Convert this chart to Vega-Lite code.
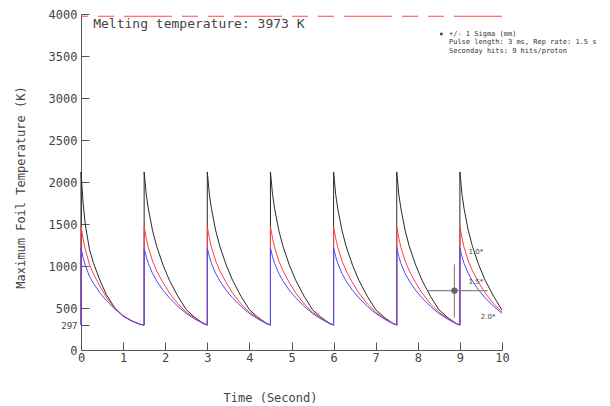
{
  "$schema": "https://vega.github.io/schema/vega-lite/v6.json",
  "width": 421,
  "height": 336,
  "autosize": "none",
  "padding": {"left": 81, "top": 14, "right": 108, "bottom": 56},
  "background": "white",
  "config": {"view": {"stroke": null}, "font": "DejaVu Sans Mono"},
  "resolve": {"axis": {"x": "independent", "y": "independent"}},
  "datasets": {
    "c": [
      {"s":"k","t":0,"v":297},{"s":"k","t":0,"v":2120},{"s":"k","t":0.05,"v":1750},{"s":"k","t":0.1,"v":1500},{"s":"k","t":0.2,"v":1200},{"s":"k","t":0.3,"v":1030},{"s":"k","t":0.45,"v":830},{"s":"k","t":0.6,"v":660},{"s":"k","t":0.8,"v":505},{"s":"k","t":1.0,"v":405},{"s":"k","t":1.2,"v":348},{"s":"k","t":1.4,"v":306},{"s":"k","t":1.5,"v":297},
      {"s":"k","t":1.5,"v":2120},{"s":"k","t":1.55,"v":1850},{"s":"k","t":1.6,"v":1680},{"s":"k","t":1.7,"v":1420},{"s":"k","t":1.8,"v":1230},{"s":"k","t":1.95,"v":1010},{"s":"k","t":2.1,"v":830},{"s":"k","t":2.3,"v":640},{"s":"k","t":2.5,"v":480},{"s":"k","t":2.7,"v":390},{"s":"k","t":2.9,"v":320},{"s":"k","t":3.0,"v":297},
      {"s":"k","t":3.0,"v":2120},{"s":"k","t":3.05,"v":1850},{"s":"k","t":3.1,"v":1680},{"s":"k","t":3.2,"v":1420},{"s":"k","t":3.3,"v":1230},{"s":"k","t":3.45,"v":1010},{"s":"k","t":3.6,"v":830},{"s":"k","t":3.8,"v":640},{"s":"k","t":4.0,"v":480},{"s":"k","t":4.2,"v":390},{"s":"k","t":4.4,"v":320},{"s":"k","t":4.5,"v":297},
      {"s":"k","t":4.5,"v":2120},{"s":"k","t":4.55,"v":1850},{"s":"k","t":4.6,"v":1680},{"s":"k","t":4.7,"v":1420},{"s":"k","t":4.8,"v":1230},{"s":"k","t":4.95,"v":1010},{"s":"k","t":5.1,"v":830},{"s":"k","t":5.3,"v":640},{"s":"k","t":5.5,"v":480},{"s":"k","t":5.7,"v":390},{"s":"k","t":5.9,"v":320},{"s":"k","t":6.0,"v":297},
      {"s":"k","t":6.0,"v":2120},{"s":"k","t":6.05,"v":1850},{"s":"k","t":6.1,"v":1680},{"s":"k","t":6.2,"v":1420},{"s":"k","t":6.3,"v":1230},{"s":"k","t":6.45,"v":1010},{"s":"k","t":6.6,"v":830},{"s":"k","t":6.8,"v":640},{"s":"k","t":7.0,"v":480},{"s":"k","t":7.2,"v":390},{"s":"k","t":7.4,"v":320},{"s":"k","t":7.5,"v":297},
      {"s":"k","t":7.5,"v":2120},{"s":"k","t":7.55,"v":1850},{"s":"k","t":7.6,"v":1680},{"s":"k","t":7.7,"v":1420},{"s":"k","t":7.8,"v":1230},{"s":"k","t":7.95,"v":1010},{"s":"k","t":8.1,"v":830},{"s":"k","t":8.3,"v":640},{"s":"k","t":8.5,"v":480},{"s":"k","t":8.7,"v":390},{"s":"k","t":8.9,"v":320},{"s":"k","t":9.0,"v":297},
      {"s":"k","t":9.0,"v":2120},{"s":"k","t":9.05,"v":1850},{"s":"k","t":9.1,"v":1680},{"s":"k","t":9.2,"v":1420},{"s":"k","t":9.3,"v":1230},{"s":"k","t":9.45,"v":1010},{"s":"k","t":9.6,"v":830},{"s":"k","t":9.8,"v":640},{"s":"k","t":10.0,"v":475},

      {"s":"r","t":0,"v":297},{"s":"r","t":0,"v":1470},{"s":"r","t":0.05,"v":1320},{"s":"r","t":0.1,"v":1200},{"s":"r","t":0.2,"v":1020},{"s":"r","t":0.3,"v":900},{"s":"r","t":0.45,"v":760},{"s":"r","t":0.6,"v":630},{"s":"r","t":0.8,"v":500},{"s":"r","t":1.0,"v":408},{"s":"r","t":1.2,"v":350},{"s":"r","t":1.4,"v":307},{"s":"r","t":1.5,"v":297},
      {"s":"r","t":1.5,"v":1470},{"s":"r","t":1.55,"v":1330},{"s":"r","t":1.6,"v":1220},{"s":"r","t":1.7,"v":1060},{"s":"r","t":1.8,"v":940},{"s":"r","t":1.95,"v":800},{"s":"r","t":2.1,"v":680},{"s":"r","t":2.3,"v":550},{"s":"r","t":2.5,"v":450},{"s":"r","t":2.7,"v":380},{"s":"r","t":2.9,"v":320},{"s":"r","t":3.0,"v":297},
      {"s":"r","t":3.0,"v":1470},{"s":"r","t":3.05,"v":1330},{"s":"r","t":3.1,"v":1220},{"s":"r","t":3.2,"v":1060},{"s":"r","t":3.3,"v":940},{"s":"r","t":3.45,"v":800},{"s":"r","t":3.6,"v":680},{"s":"r","t":3.8,"v":550},{"s":"r","t":4.0,"v":450},{"s":"r","t":4.2,"v":380},{"s":"r","t":4.4,"v":320},{"s":"r","t":4.5,"v":297},
      {"s":"r","t":4.5,"v":1470},{"s":"r","t":4.55,"v":1330},{"s":"r","t":4.6,"v":1220},{"s":"r","t":4.7,"v":1060},{"s":"r","t":4.8,"v":940},{"s":"r","t":4.95,"v":800},{"s":"r","t":5.1,"v":680},{"s":"r","t":5.3,"v":550},{"s":"r","t":5.5,"v":450},{"s":"r","t":5.7,"v":380},{"s":"r","t":5.9,"v":320},{"s":"r","t":6.0,"v":297},
      {"s":"r","t":6.0,"v":1470},{"s":"r","t":6.05,"v":1330},{"s":"r","t":6.1,"v":1220},{"s":"r","t":6.2,"v":1060},{"s":"r","t":6.3,"v":940},{"s":"r","t":6.45,"v":800},{"s":"r","t":6.6,"v":680},{"s":"r","t":6.8,"v":550},{"s":"r","t":7.0,"v":450},{"s":"r","t":7.2,"v":380},{"s":"r","t":7.4,"v":320},{"s":"r","t":7.5,"v":297},
      {"s":"r","t":7.5,"v":1470},{"s":"r","t":7.55,"v":1330},{"s":"r","t":7.6,"v":1220},{"s":"r","t":7.7,"v":1060},{"s":"r","t":7.8,"v":940},{"s":"r","t":7.95,"v":800},{"s":"r","t":8.1,"v":680},{"s":"r","t":8.3,"v":550},{"s":"r","t":8.5,"v":450},{"s":"r","t":8.7,"v":380},{"s":"r","t":8.9,"v":320},{"s":"r","t":9.0,"v":297},
      {"s":"r","t":9.0,"v":1470},{"s":"r","t":9.05,"v":1330},{"s":"r","t":9.1,"v":1220},{"s":"r","t":9.2,"v":1060},{"s":"r","t":9.3,"v":940},{"s":"r","t":9.45,"v":800},{"s":"r","t":9.6,"v":680},{"s":"r","t":9.8,"v":550},{"s":"r","t":10.0,"v":452},

      {"s":"b","t":0,"v":297},{"s":"b","t":0,"v":1215},{"s":"b","t":0.05,"v":1100},{"s":"b","t":0.1,"v":1010},{"s":"b","t":0.2,"v":880},{"s":"b","t":0.3,"v":790},{"s":"b","t":0.45,"v":680},{"s":"b","t":0.6,"v":590},{"s":"b","t":0.8,"v":490},{"s":"b","t":1.0,"v":403},{"s":"b","t":1.2,"v":346},{"s":"b","t":1.4,"v":305},{"s":"b","t":1.5,"v":297},
      {"s":"b","t":1.5,"v":1215},{"s":"b","t":1.55,"v":1110},{"s":"b","t":1.6,"v":1030},{"s":"b","t":1.7,"v":910},{"s":"b","t":1.8,"v":820},{"s":"b","t":1.95,"v":710},{"s":"b","t":2.1,"v":620},{"s":"b","t":2.3,"v":520},{"s":"b","t":2.5,"v":435},{"s":"b","t":2.7,"v":370},{"s":"b","t":2.9,"v":315},{"s":"b","t":3.0,"v":297},
      {"s":"b","t":3.0,"v":1215},{"s":"b","t":3.05,"v":1110},{"s":"b","t":3.1,"v":1030},{"s":"b","t":3.2,"v":910},{"s":"b","t":3.3,"v":820},{"s":"b","t":3.45,"v":710},{"s":"b","t":3.6,"v":620},{"s":"b","t":3.8,"v":520},{"s":"b","t":4.0,"v":435},{"s":"b","t":4.2,"v":370},{"s":"b","t":4.4,"v":315},{"s":"b","t":4.5,"v":297},
      {"s":"b","t":4.5,"v":1215},{"s":"b","t":4.55,"v":1110},{"s":"b","t":4.6,"v":1030},{"s":"b","t":4.7,"v":910},{"s":"b","t":4.8,"v":820},{"s":"b","t":4.95,"v":710},{"s":"b","t":5.1,"v":620},{"s":"b","t":5.3,"v":520},{"s":"b","t":5.5,"v":435},{"s":"b","t":5.7,"v":370},{"s":"b","t":5.9,"v":315},{"s":"b","t":6.0,"v":297},
      {"s":"b","t":6.0,"v":1215},{"s":"b","t":6.05,"v":1110},{"s":"b","t":6.1,"v":1030},{"s":"b","t":6.2,"v":910},{"s":"b","t":6.3,"v":820},{"s":"b","t":6.45,"v":710},{"s":"b","t":6.6,"v":620},{"s":"b","t":6.8,"v":520},{"s":"b","t":7.0,"v":435},{"s":"b","t":7.2,"v":370},{"s":"b","t":7.4,"v":315},{"s":"b","t":7.5,"v":297},
      {"s":"b","t":7.5,"v":1215},{"s":"b","t":7.55,"v":1110},{"s":"b","t":7.6,"v":1030},{"s":"b","t":7.7,"v":910},{"s":"b","t":7.8,"v":820},{"s":"b","t":7.95,"v":710},{"s":"b","t":8.1,"v":620},{"s":"b","t":8.3,"v":520},{"s":"b","t":8.5,"v":435},{"s":"b","t":8.7,"v":370},{"s":"b","t":8.9,"v":315},{"s":"b","t":9.0,"v":297},
      {"s":"b","t":9.0,"v":1215},{"s":"b","t":9.05,"v":1110},{"s":"b","t":9.1,"v":1030},{"s":"b","t":9.2,"v":910},{"s":"b","t":9.3,"v":820},{"s":"b","t":9.45,"v":710},{"s":"b","t":9.6,"v":620},{"s":"b","t":9.8,"v":520},{"s":"b","t":10.0,"v":438}
    ],
    "notes": [
      {"label":"Melting temperature: 3973 K","t":0.29,"v":3881,"kind":"melt"},
      {"label":"+/- 1 Sigma (mm)","t":8.74,"v":3762,"kind":"leg"},
      {"label":"Pulse length: 3 ms, Rep rate: 1.5 s","t":8.74,"v":3661,"kind":"leg"},
      {"label":"Seconday hits: 9 hits/proton","t":8.74,"v":3560,"kind":"leg"},
      {"label":"1.0*","t":9.38,"v":1167,"kind":"cur"},
      {"label":"1.5*","t":9.38,"v":815,"kind":"cur"},
      {"label":"2.0*","t":9.67,"v":387,"kind":"cur"}
    ]
  },
  "layer": [
    {
      "data": {"values": [{"v": 3973}]},
      "mark": {"type": "rule", "color": "#ff4a4a", "strokeWidth": 1.2, "strokeDash": [48, 10, 16, 10, 16, 10]},
      "encoding": {"y": {"field": "v", "type": "quantitative", "scale": {"domain": [0, 4000], "nice": false}, "axis": null}}
    },
    {
      "data": {"name": "c"},
      "transform": [{"filter": "datum.s == 'k'"}],
      "mark": {"type": "line", "color": "#2a2a2a", "strokeWidth": 1},
      "encoding": {
        "x": {
          "field": "t", "type": "quantitative",
          "scale": {"domain": [0, 10], "nice": false},
          "axis": {
            "orient": "bottom",
            "values": [0,1,2,3,4,5,6,7,8,9,10],
            "title": "Time (Second)",
            "grid": false, "ticks": false, "labelFlush": false, "labelOverlap": false,
            "domainColor": "#555",
            "labelPadding": 2,
            "labelFont": "DejaVu Sans Mono", "labelFontSize": 12, "labelColor": "#444",
            "titleFont": "DejaVu Sans Mono", "titleFontSize": 12, "titleFontWeight": "normal", "titleColor": "#444",
            "titleX": 189, "titleY": 47, "titleBaseline": "middle", "titleAnchor": null, "titleAlign": "center"
          }
        },
        "y": {
          "field": "v", "type": "quantitative",
          "scale": {"domain": [0, 4000], "nice": false},
          "axis": {
            "orient": "left",
            "values": [0,297,500,1000,1500,2000,2500,3000,3500,4000],
            "format": "d",
            "title": "Maximum Foil Temperature (K)",
            "grid": false, "ticks": false, "labelFlush": false, "labelOverlap": false,
            "domainColor": "#555",
            "labelPadding": 4,
            "labelFont": "DejaVu Sans Mono",
            "labelFontSize": {"condition": {"test": "datum.value == 297", "value": 9}, "value": 12},
            "labelColor": "#444",
            "titleFont": "DejaVu Sans Mono", "titleFontSize": 12, "titleFontWeight": "normal", "titleColor": "#444",
            "titleX": -61, "titleY": 173, "titleBaseline": "middle", "titleAnchor": null, "titleAlign": "center"
          }
        },
        "order": {"value": null}
      }
    },
    {
      "data": {"name": "c"},
      "transform": [{"filter": "datum.s == 'r'"}],
      "mark": {"type": "line", "color": "#ff4040", "strokeWidth": 1},
      "encoding": {
        "x": {"field": "t", "type": "quantitative",
          "axis": {"orient": "top", "offset": -336, "values": [0,1,2,3,4,5,6,7,8,9,10], "labels": false, "domain": false, "grid": false, "ticks": true, "tickSize": 8, "tickColor": "#555", "title": null}},
        "y": {"field": "v", "type": "quantitative",
          "axis": {"orient": "right", "offset": -421, "values": [0,297,500,1000,1500,2000,2500,3000,3500,4000], "labels": false, "domain": false, "grid": false, "ticks": true, "tickSize": 8, "tickColor": "#555", "title": null}},
        "order": {"value": null}
      }
    },
    {
      "data": {"name": "c"},
      "transform": [{"filter": "datum.s == 'b'"}],
      "mark": {"type": "line", "color": "#4a4aff", "strokeWidth": 1},
      "encoding": {
        "x": {"field": "t", "type": "quantitative", "axis": null},
        "y": {"field": "v", "type": "quantitative", "axis": null},
        "order": {"value": null}
      }
    },
    {
      "data": {"values": [{"t1": 8.23, "t2": 9.66, "v": 706}]},
      "mark": {"type": "rule", "color": "#888", "strokeWidth": 1.2},
      "encoding": {
        "x": {"field": "t1", "type": "quantitative", "axis": null},
        "x2": {"field": "t2"},
        "y": {"field": "v", "type": "quantitative", "axis": null}
      }
    },
    {
      "data": {"values": [{"t": 8.87, "v1": 385, "v2": 1020}]},
      "mark": {"type": "rule", "color": "#888", "strokeWidth": 1.2},
      "encoding": {
        "x": {"field": "t", "type": "quantitative", "axis": null},
        "y": {"field": "v1", "type": "quantitative", "axis": null},
        "y2": {"field": "v2"}
      }
    },
    {
      "data": {"values": [{"t": 8.87, "v": 706}]},
      "mark": {"type": "point", "shape": "circle", "filled": true, "color": "#666", "size": 40, "opacity": 1},
      "encoding": {
        "x": {"field": "t", "type": "quantitative", "axis": null},
        "y": {"field": "v", "type": "quantitative", "axis": null}
      }
    },
    {
      "data": {"values": [{"t": 8.56, "v": 3762}]},
      "mark": {"type": "square", "color": "#333", "size": 6, "opacity": 1},
      "encoding": {
        "x": {"field": "t", "type": "quantitative", "axis": null},
        "y": {"field": "v", "type": "quantitative", "axis": null}
      }
    },
    {
      "data": {"name": "notes"},
      "transform": [{"filter": "datum.kind == 'melt'"}],
      "mark": {"type": "text", "align": "left", "baseline": "middle", "font": "DejaVu Sans Mono", "fontSize": 13, "color": "#444"},
      "encoding": {
        "x": {"field": "t", "type": "quantitative", "axis": null},
        "y": {"field": "v", "type": "quantitative", "axis": null},
        "text": {"field": "label"}
      }
    },
    {
      "data": {"name": "notes"},
      "transform": [{"filter": "datum.kind == 'leg'"}],
      "mark": {"type": "text", "align": "left", "baseline": "middle", "font": "DejaVu Sans Mono", "fontSize": 7, "color": "#333"},
      "encoding": {
        "x": {"field": "t", "type": "quantitative", "axis": null},
        "y": {"field": "v", "type": "quantitative", "axis": null},
        "text": {"field": "label"}
      }
    },
    {
      "data": {"name": "notes"},
      "transform": [{"filter": "datum.kind == 'cur'"}],
      "mark": {"type": "text", "align": "center", "baseline": "middle", "font": "DejaVu Sans", "fontSize": 7, "color": "#444"},
      "encoding": {
        "x": {"field": "t", "type": "quantitative", "axis": null},
        "y": {"field": "v", "type": "quantitative", "axis": null},
        "text": {"field": "label"}
      }
    }
  ]
}
